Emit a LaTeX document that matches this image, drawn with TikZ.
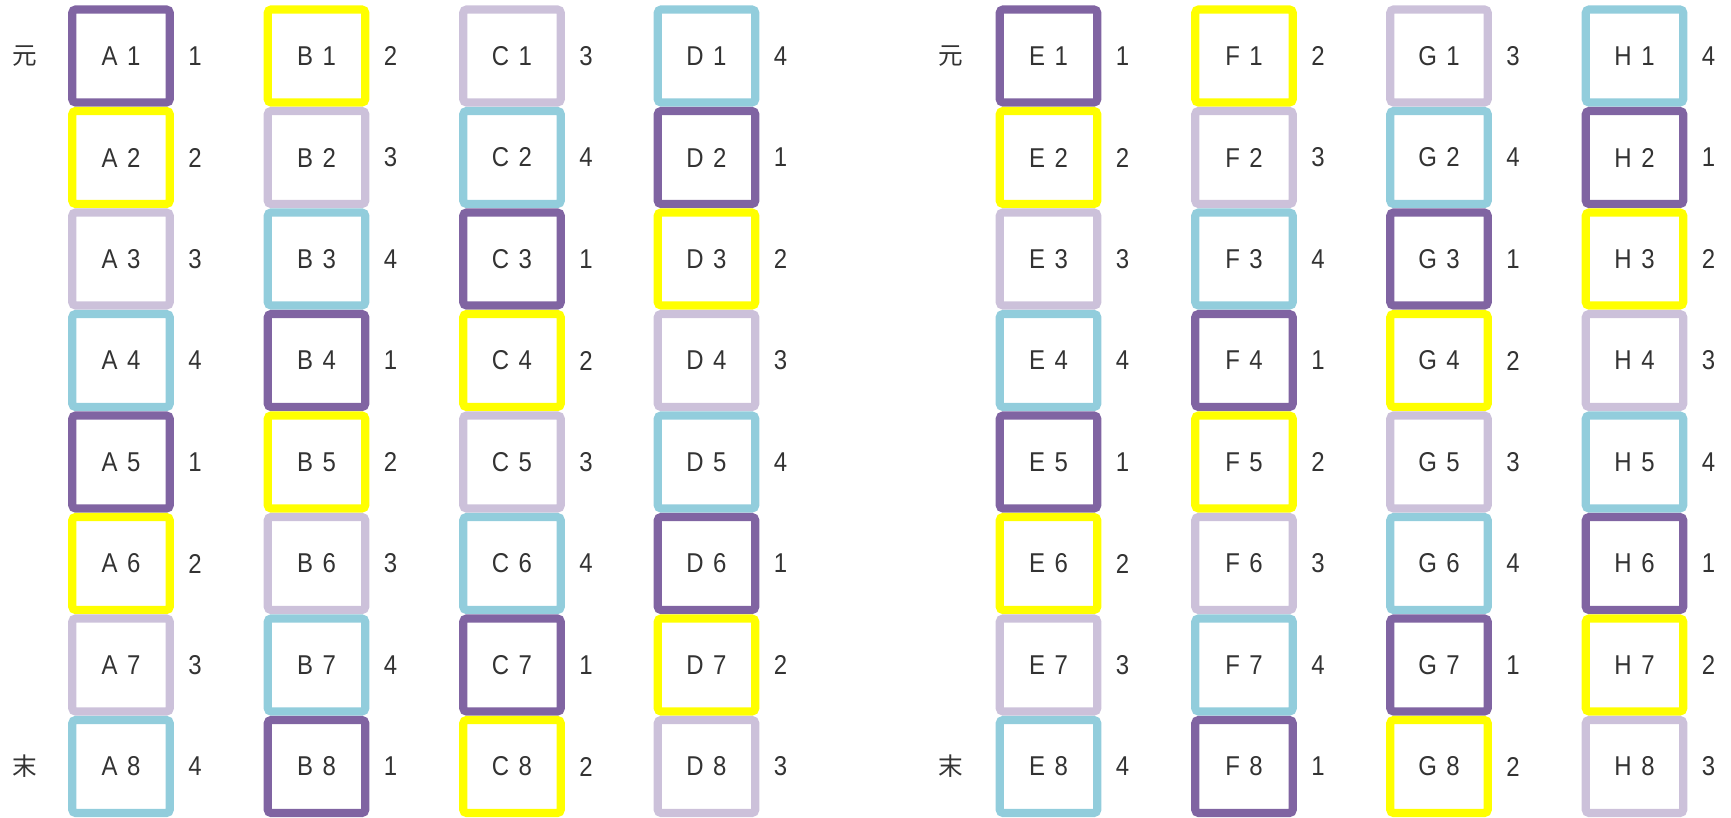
\documentclass[tikz,border=0pt]{standalone}
\usepackage{fontspec}
\setmainfont{Liberation Sans}
\newfontfamily\labfont[FakeStretch=0.88]{Liberation Sans}
\newfontfamily\cjk{Noto Sans CJK SC}
\definecolor{cpurple}{HTML}{8064A2}
\definecolor{cyellow}{HTML}{FFFF00}
\definecolor{clav}{HTML}{CCC1DA}
\definecolor{cblue}{HTML}{92CDDC}
\definecolor{ctext}{HTML}{333333}
\begin{document}
\begin{tikzpicture}[x=0.02cm,y=-0.02cm,
  cell/.style={draw, line width=0.165cm, rounded corners=2pt, minimum width=1.95cm, minimum height=1.86cm, inner sep=0pt, outer sep=0pt, text=ctext, font=\labfont\fontsize{15.5}{18}\selectfont},
  numlab/.style={text=ctext, font=\labfont\fontsize{15.5}{18}\selectfont, inner sep=0pt},
  endlab/.style={text=ctext, font=\cjk\fontsize{14}{16}\selectfont, inner sep=0pt}]
\useasboundingbox (0,0) rectangle (1731,818);
\def\colnames{{"A","B","C","D","E","F","G","H"}}
\def\colx{{121,316.5,512,706.5,1048.5,1244,1439,1634.5}}
\def\colors{{"cpurple","cyellow","clav","cblue"}}
\foreach \c in {0,...,7}{
  \foreach \r in {0,...,7}{
    \pgfmathsetmacro{\xx}{\colx[\c]}
    \pgfmathsetmacro{\yy}{56+101.5*\r}
    \pgfmathtruncatemacro{\k}{mod(mod(\c,4)+\r,4)}
    \pgfmathtruncatemacro{\num}{\k+1}
    \pgfmathsetmacro{\nm}{\colnames[\c]}
    \pgfmathsetmacro{\cl}{\colors[\k]}
    \pgfmathtruncatemacro{\rr}{\r+1}
    \node[cell, draw=\cl] (\nm\rr) at (\xx,\yy) {\nm\hspace{0.35em}\rr};
    \node[numlab] (n\nm\rr) at (\xx+74,\yy) {\num};
  }
}
\node[endlab] (startL) at (25,56) {元};
\node[endlab] (endL) at (25,766.5) {末};
\node[endlab] (startR) at (951,56) {元};
\node[endlab] (endR) at (951,766.5) {末};
\end{tikzpicture}
\end{document}
